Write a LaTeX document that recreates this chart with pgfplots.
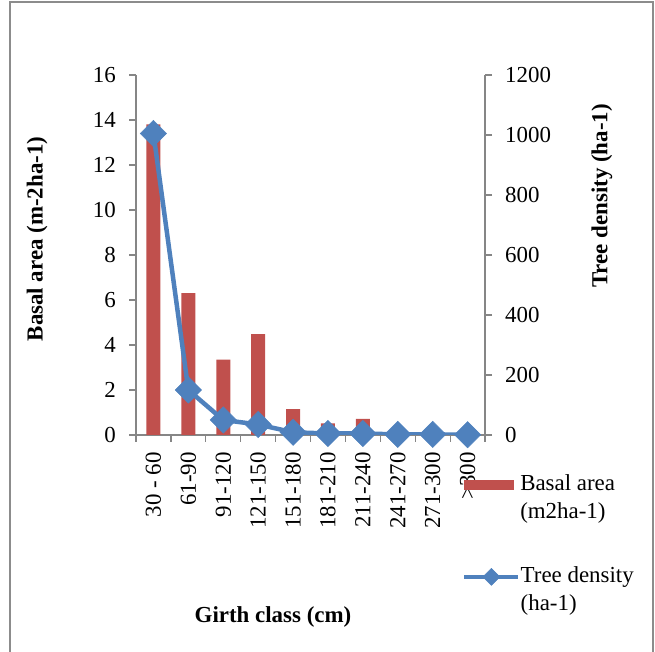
\documentclass[border=0pt]{standalone}
\usepackage{pgfplots}
\pgfplotsset{compat=1.18}
\usepackage{fontspec}
\setmainfont{Liberation Serif}
\definecolor{barred}{HTML}{C0504D}
\definecolor{lineblue}{HTML}{4F81BD}
\definecolor{axgray}{HTML}{868686}
\definecolor{framegray}{HTML}{8C8C8C}
\begin{document}
\fontsize{23}{28}\selectfont
\begin{tikzpicture}[x=1bp,y=1bp]
\useasboundingbox (0,0) rectangle (655,652);
\draw[framegray, line width=1.5bp] (10,0) -- (10,650) -- (653,650) -- (653,0);
\begin{axis}[
  at={(136bp,217bp)}, anchor=south west,
  scale only axis, width=349bp, height=360bp,
  xmin=-0.5, xmax=9.5, ymin=0, ymax=16,
  axis x line*=bottom, axis y line*=left,
  axis line style={-, axgray, line width=1.2bp},
  tick align=outside, major tick length=7bp,
  tick style={axgray, line width=1.2bp},
  /pgf/number format/assume math mode=true,
  xtick={-0.5,0.5,...,9.5},
  x tick label as interval,
  xticklabels={30 - 60,61-90,91-120,121-150,151-180,181-210,211-240,241-270,271-300,>300},
  xticklabel style={yshift=-10bp, rotate=90, anchor=east, inner sep=0pt, font=\fontsize{23}{28}\selectfont},
  ytick={0,2,...,16},
  yticklabel style={inner sep=0pt, xshift=-13bp, font=\fontsize{23}{28}\selectfont},
  legend style={at={(axis description cs:0.94,-0.11)}, anchor=north west, draw=none, fill=none,
     inner sep=0pt, nodes={inner sep=0pt, align=left, font=\fontsize{23}{28}\selectfont}},
  legend cell align=left,
  legend image code/.code={\fill[barred] (0bp,8bp) rectangle (50bp,18bp); \path (56bp,8bp);},
]
\addplot[ybar, bar width=14bp, fill=barred, draw=none] coordinates {
 (0,13.8) (1,6.3) (2,3.35) (3,4.48) (4,1.15) (5,0.52) (6,0.72) (7,0) (8,0) (9,0)};
\addlegendentry{Basal area\\(m2ha-1)}
\end{axis}
\begin{axis}[
  at={(136bp,217bp)}, anchor=south west,
  scale only axis, width=349bp, height=360bp,
  xmin=-0.5, xmax=9.5, ymin=0, ymax=1200,
  axis x line=none, axis y line*=right,
  axis line style={-, axgray, line width=1.2bp},
  tick align=outside, major tick length=7bp,
  tick style={axgray, line width=1.2bp},
  /pgf/number format/assume math mode=true,
  /pgf/number format/1000 sep={},
  ytick={0,200,...,1200},
  yticklabel style={inner sep=0pt, xshift=13bp, font=\fontsize{23}{28}\selectfont},
  legend style={at={(axis description cs:0.934,-0.364)}, anchor=north west, draw=none, fill=none,
     inner sep=0pt, nodes={inner sep=0pt, align=left, font=\fontsize{23}{28}\selectfont}},
  legend cell align=left,
  legend image code/.code={\draw[#1, mark repeat=2, mark phase=2, mark size=6bp] plot coordinates {(0bp,13bp) (27bp,13bp) (54bp,13bp)};},
]
\addplot[lineblue, line width=4.5bp, mark=square*, mark size=9.3bp, mark options={rotate=45, fill=lineblue, draw=lineblue, line width=0.5bp}] coordinates {
 (0,1005) (1,150) (2,50) (3,35) (4,9) (5,5) (6,5) (7,2) (8,2) (9,1)};
\addlegendentry{Tree density\\(ha-1)}
\end{axis}
\node[rotate=90, font=\fontsize{23}{28}\selectfont\bfseries] at (37,413) {Basal area (m-2ha-1)};
\node[rotate=90, font=\fontsize{23}{28}\selectfont\bfseries] at (602,456) {Tree density (ha-1)};
\node[font=\fontsize{23}{28}\selectfont\bfseries] at (273,35) {Girth class (cm)};
\end{tikzpicture}
\end{document}
